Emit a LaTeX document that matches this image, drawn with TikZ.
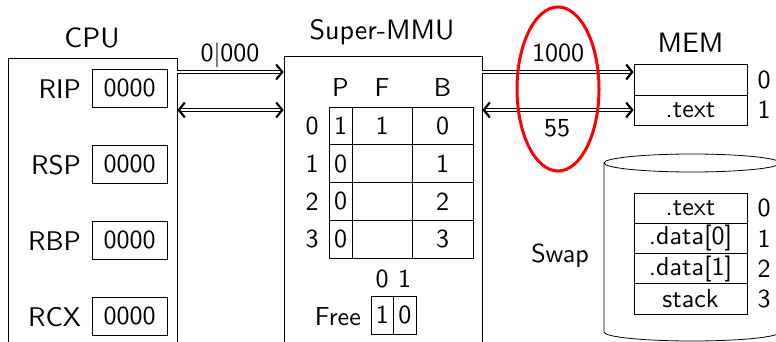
\documentclass[tikz,border=0pt]{standalone}
\usepackage{fontspec}
\setsansfont{lmsans10-regular}[Extension=.otf]
\usetikzlibrary{arrows.meta}
\begin{document}
\begin{tikzpicture}[x=1pt,y=-1pt,
  txt/.style={font=\sffamily\fontsize{26}{30}\selectfont, inner sep=0pt},
  ttl/.style={font=\sffamily\fontsize{28}{32}\selectfont, inner sep=0pt, anchor=base},
  box/.style={draw, line width=0.8pt, inner sep=0pt},
  reg/.style={box, txt, minimum width=75pt, minimum height=38pt},
  rlab/.style={txt, font=\sffamily\fontsize{27}{30}\selectfont, anchor=base east},
  cell/.style={box, txt, minimum height=37.75pt},
  pc/.style={cell, minimum width=23pt},
  fc/.style={cell, minimum width=60pt},
  bc/.style={cell, minimum width=61pt},
  mc/.style={box, txt, minimum width=113pt},
  idx/.style={txt},
  dbl/.style={double, double distance=1.6pt, line width=0.8pt,
    -{Straight Barb[length=6pt,width=15pt,line width=2.2pt]}},
  dbl2/.style={dbl, {Straight Barb[length=6pt,width=15pt,line width=2.2pt]}-{Straight Barb[length=6pt,width=15pt,line width=2.2pt]}}
]
\clip (0,0) rectangle (776,342);
% CPU
\node[box, minimum width=169pt, minimum height=302pt] (cpu) at (92.5,209) {};
\node[ttl] (cputitle) at (92,48) {CPU};
\foreach \n/\y in {RIP/88,RSP/164,RBP/240,RCX/316}{
  \node[reg] (r\n) at (129.5,\y) {0000};
  \node[rlab] (l\n) at (81,\y+10.5) {\n};
}
% MMU
\node[box, minimum width=198pt, minimum height=304pt] (mmu) at (383,208) {};
\node[ttl] (mmutitle) at (382,40) {Super-MMU};
\node[txt, anchor=base] (hP) at (340.5,97) {P};
\node[txt, anchor=base] (hF) at (382,97) {F};
\node[txt, anchor=base] (hB) at (442.5,97) {B};
\foreach \i/\p/\f/\b in {0/1/1/0,1/0//1,2/0//2,3/0//3}{
  \pgfmathsetmacro{\yy}{125.875+37.75*\i}
  \node[pc] (p\i) at (340.5,\yy) {\p};
  \node[fc] (f\i) at (382,\yy) {\f};
  \node[bc] (b\i) at (442.5,\yy) {\b};
  \node[idx] (row\i) at (312,\yy) {\i};
}
\node[txt, anchor=base] (fi0) at (382,287) {0};
\node[txt, anchor=base] (fi1) at (404.5,287) {1};
\node[box, txt, minimum width=22.5pt, minimum height=38pt] (fr0) at (382.25,315) {1};
\node[box, txt, minimum width=22.5pt, minimum height=38pt] (fr1) at (404.75,315) {0};
\node[txt, anchor=base east] (free) at (361,325) {Free};
% MEM
\node[ttl] (memtitle) at (690.5,53) {MEM};
\node[mc, minimum height=31pt] (m0) at (690.5,79.5) {};
\node[mc, minimum height=30pt] (m1) at (690.5,110) {.text};
\node[idx] (mi0) at (764,80) {0};
\node[idx] (mi1) at (764,110) {1};
% Arrows
\draw[dbl] (cpu.east |- 0,72) -- (mmu.west |- 0,72);
\draw[dbl2] (cpu.east |- 0,110) -- (mmu.west |- 0,110);
\draw[dbl] (mmu.east |- 0,72) -- (m0.west |- 0,72);
\draw[dbl2] (mmu.east |- 0,110) -- (m1.west |- 0,110);
\node[txt, anchor=base] (addr) at (230,62) {0$|$000};
\node[txt, anchor=base] (paddr) at (558,62) {1000};
\node[txt, anchor=base] (data) at (557,137) {55};
\draw[red, line width=3pt] (558,89) ellipse (41 and 82);
% Swap
\draw[line width=0.8pt] (692,163) ellipse (88 and 9);
\draw[line width=0.8pt] (780,163) -- (780,332) arc[start angle=0,end angle=180,x radius=88,y radius=9] -- (604,163);
\node[txt, anchor=base] (swaplab) at (560,262) {Swap};
\foreach \i/\t in {0/.text,1/.data[0],2/.data[1],3/stack}{
  \pgfmathsetmacro{\yy}{208.1+30.25*\i}
  \node[mc, minimum height=30.25pt] (s\i) at (690.5,\yy) {\t};
  \node[idx] (si\i) at (764,\yy) {\i};
}
\end{tikzpicture}
\end{document}
